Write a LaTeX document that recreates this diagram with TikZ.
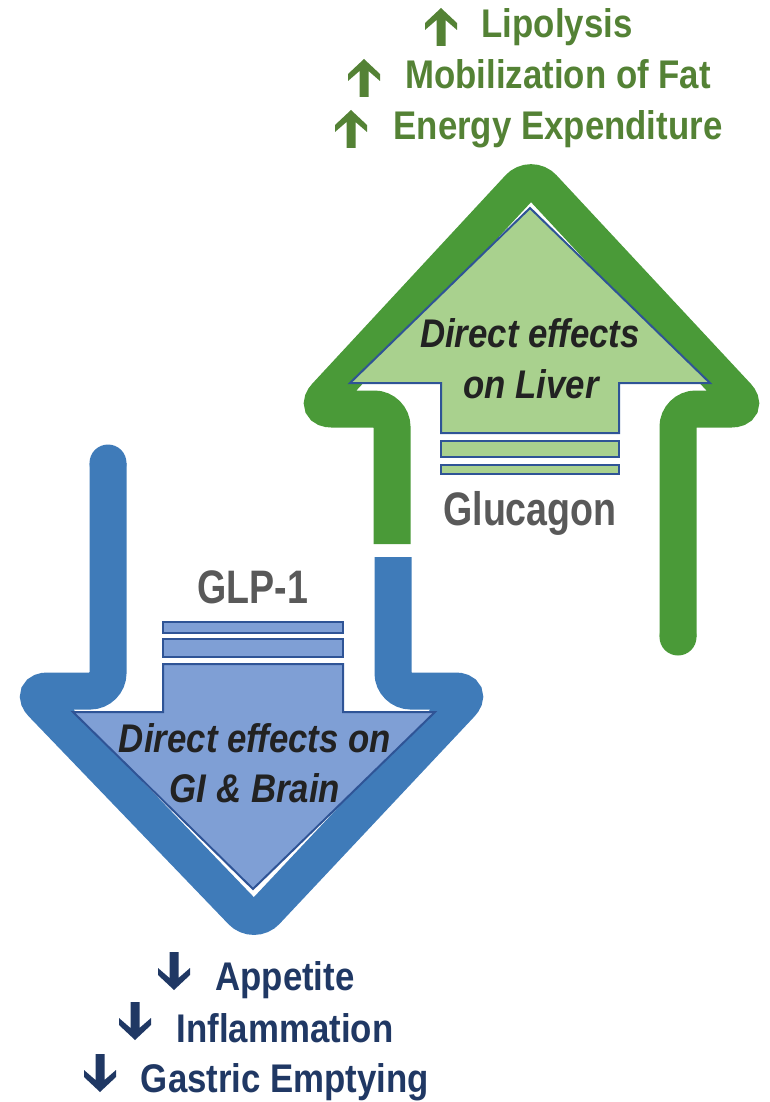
\documentclass[tikz,border=0pt]{standalone}
\usepackage{fontspec}
\newfontfamily\listfont{Liberation Sans}[FakeStretch=0.87]
\newfontfamily\labelfont{Liberation Sans}[FakeStretch=0.8]

\definecolor{greenline}{HTML}{4A9A38}
\definecolor{greenfill}{HTML}{A9D18E}
\definecolor{greentext}{HTML}{548235}
\definecolor{blueline}{HTML}{3F7BB9}
\definecolor{bluefill}{HTML}{7F9FD5}
\definecolor{navyline}{HTML}{2F5496}
\definecolor{navytext}{HTML}{203864}
\definecolor{graytext}{HTML}{595959}
\definecolor{darktext}{HTML}{222222}

\tikzset{
  outline/.style={line width=37pt, rounded corners=18pt},
  inarrow/.style={draw=navyline, line width=2pt, line join=miter},
  listtext/.style={anchor=base, inner sep=0pt, font=\listfont\bfseries\fontsize{40}{48}\selectfont},
  effecttext/.style={anchor=base, inner sep=0pt, text=darktext, font=\listfont\bfseries\itshape\fontsize{40}{48}\selectfont},
  hormone/.style={anchor=base, inner sep=0pt, text=graytext, font=\labelfont\bfseries\fontsize{47}{56}\selectfont},
  uparr/.pic={\fill (0,0) -- (16,15) -- (16,22) -- (4.5,12) -- (4.5,38) -- (-4.5,38) -- (-4.5,12) -- (-16,22) -- (-16,15) -- cycle;},
  downarr/.pic={\fill (0,0) -- (16,-15) -- (16,-22) -- (4.5,-12) -- (4.5,-38) -- (-4.5,-38) -- (-4.5,-12) -- (-16,-22) -- (-16,-15) -- cycle;}
}

\begin{document}
\begin{tikzpicture}[x=1pt, y=-1pt]
	\useasboundingbox (0,0) rectangle (769,1102);
	% glucagon: thick outline
	\draw [outline, greenline] (392,544) -- (392,409) -- (314,409) -- (531,175) -- (749,409) -- (678,409) -- (678,637);
	\fill [greenline] (678,637) circle [radius=18.5pt];
	% GLP-1: thick outline
	\draw [outline, blueline] (108,463) -- (108,691) -- (30,691) -- (254,924) -- (473,691) -- (393,691) -- (393,557);
	\fill [blueline] (108,463) circle [radius=18.5pt];
	% inner arrows and bars
	\filldraw [inarrow, fill=greenfill] (441,433) -- (441,383) -- (350,383) -- (530,208) -- (710,383) -- (619,383) -- (619,433) -- cycle;
	\filldraw [inarrow, fill=greenfill] (441,441) rectangle (619,457);
	\filldraw [inarrow, fill=greenfill] (441,465) rectangle (619,474);
	\filldraw [inarrow, fill=bluefill] (163,664) -- (163,712) -- (73,712) -- (253,889) -- (435,712) -- (343,712) -- (343,664) -- cycle;
	\filldraw [inarrow, fill=bluefill] (163,622) rectangle (343,633);
	\filldraw [inarrow, fill=bluefill] (163,639) rectangle (343,657);
	% labels inside
	\node [effecttext] (liver1) at (530,347) {Direct effects};
	\node [effecttext] (liver2) at (531,398) {on Liver};
	\node [effecttext] (gi1) at (255,752) {Direct effects on};
	\node [effecttext] (gi2) at (255,802) {GI \& Brain};
	\node [hormone] (glucagon) at (530,525) {Glucagon};
	\node [hormone] (glp) at (253,603) {GLP-1};
	% effects up
	\pic [color=greentext] at (441,8) {uparr};
	\pic [color=greentext] at (364,59) {uparr};
	\pic [color=greentext] at (351,110) {uparr};
	\node [listtext, text=greentext] (lipo) at (557,38) {Lipolysis};
	\node [listtext, text=greentext] (mobil) at (558,89) {Mobilization of Fat};
	\node [listtext, text=greentext] (energy) at (558,140) {Energy Expenditure};
	% effects down
	\pic [color=navytext] at (174,990) {downarr};
	\pic [color=navytext] at (135,1040) {downarr};
	\pic [color=navytext] at (100,1092) {downarr};
	\node [listtext, text=navytext] (appetite) at (285,990) {Appetite};
	\node [listtext, text=navytext] (inflam) at (285,1042) {Inflammation};
	\node [listtext, text=navytext] (gastric) at (285,1092) {Gastric Emptying};
\end{tikzpicture}
\end{document}
